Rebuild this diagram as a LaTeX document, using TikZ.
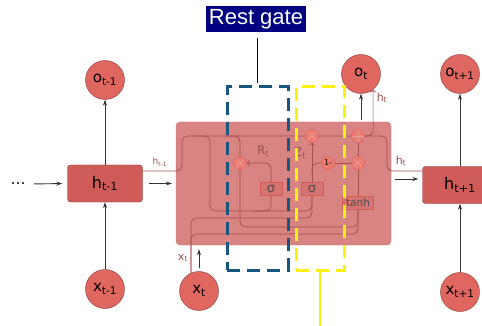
\documentclass[tikz,border=0pt]{standalone}
\usepackage{fontspec}
\setmainfont{DejaVu Sans}
\newfontfamily\tagfont{Liberation Sans}
\usetikzlibrary{arrows.meta,backgrounds}
\definecolor{unitfill}{RGB}{224,102,96}
\definecolor{unitedge}{RGB}{135,55,52}
\definecolor{boxfill}{RGB}{207,92,88}
\definecolor{boxedge}{RGB}{140,60,58}
\definecolor{cellfill}{RGB}{215,132,130}
\definecolor{celledge}{RGB}{192,108,105}
\definecolor{wirecol}{RGB}{168,78,76}
\definecolor{opfill}{RGB}{238,122,112}
\definecolor{opedge}{RGB}{212,92,86}
\definecolor{labelcol}{RGB}{150,82,80}
\definecolor{resetblue}{RGB}{24,86,126}
\definecolor{updyellow}{RGB}{250,240,20}
\definecolor{tagnavy}{RGB}{0,0,128}
\newcommand\idx[2]{#1\textsubscript{#2}}

\begin{document}
\begin{tikzpicture}[x=1pt,y=-1pt,
  unit/.style={circle,draw=unitedge,fill=unitfill,minimum size=39pt,inner sep=0pt,font=\fontsize{15}{15}\selectfont},
  state/.style={draw=boxedge,fill=boxfill,rounded corners=3pt,minimum height=37pt,minimum width=75pt,inner sep=0pt,font=\fontsize{16}{16}\selectfont},
  op/.style={circle,draw=opedge,fill=opfill,minimum size=13pt,inner sep=0pt},
  mulop/.style={op,path picture={\draw[opedge!60!white,line width=0.8pt] (path picture bounding box.north west) -- (path picture bounding box.south east) (path picture bounding box.north east) -- (path picture bounding box.south west);}},
  addop/.style={op,path picture={\draw[opedge!60!white,line width=0.8pt] (path picture bounding box.north) -- (path picture bounding box.south) (path picture bounding box.west) -- (path picture bounding box.east);}},
  gate/.style={draw=opedge,fill=boxfill!85!white,minimum height=13pt,inner sep=1pt,text=black!70,font=\fontsize{13}{13}\selectfont},
  wire/.style={draw=wirecol,line width=0.7pt,rounded corners=6pt},
  flow/.style={draw=black!80,line width=0.9pt,-{Stealth[length=6pt,width=4pt]}},
  tag/.style={text=labelcol,font=\fontsize{11}{11}\selectfont,inner sep=1pt},
  gatebox/.style={draw,line width=3pt,dash pattern=on 13pt off 7pt,inner sep=0pt}]
\useasboundingbox (0,0) rectangle (482,326);

\begin{pgfonlayer}{background}
\node[draw=celledge,fill=cellfill,rounded corners=4pt,minimum width=215pt,minimum height=123pt] (cell) at (283.5,183.5) {};
\end{pgfonlayer}

\node[font=\fontsize{15}{15}\selectfont] (dots) at (18,184) {\dots};
\node[state] (hprev) at (105,183.5) {\idx{h}{t-1}};
\node[state] (hnext) at (460,185) {\idx{h}{t+1}};
\node[unit] (oprev) at (105,80) {\idx{o}{t-1}};
\node[unit] (onow) at (361,74) {\idx{o}{t}};
\node[unit] (onext) at (460,74) {\idx{o}{t+1}};
\node[unit] (xprev) at (105,289) {\idx{x}{t-1}};
\node[unit] (xnow) at (199,291) {\idx{x}{t}};
\node[unit] (xnext) at (460,292) {\idx{x}{t+1}};

\node[mulop] (rmul) at (240,163) {};
\node[mulop] (zmul) at (312,136) {};
\node[addop] (sum) at (358,136) {};
\node[op,font=\fontsize{8}{8}\selectfont] (inv) at (328,163) {1-};
\node[mulop] (hmul) at (358,163) {};
\node[gate,minimum width=22pt] (rsig) at (271,189) {σ};
\node[gate,minimum width=22pt] (zsig) at (312,189) {σ};
\node[gate,minimum width=31pt,font=\fontsize{10.5}{10.5}\selectfont] (tanh) at (358,203) {tanh};
\coordinate (xin) at (191,273);

\begin{pgfonlayer}{background}
\draw[wire] (hprev.east |- 0,171) -- (182,171) |- (387,136) |- (hnext.west |- 0,171);
\draw[wire] (196,136) -| (210,211) -| (zsig.south);
\draw[wire] (rsig.south) |- (255,211);
\draw[wire] (226,136) -| (rmul.north);
\draw[wire] (rmul.south) |- (tanh.south |- 0,227) -- (tanh.south);
\draw[wire] (xin) |- (zsig.south |- 0,218) -- (zsig.south);
\draw[wire] (xin) |- (tanh.south |- 0,234) -- (tanh.south);
\draw[wire,-{To[length=3pt]}] (rsig.north) |- (rmul.east);
\draw[wire,-{To[length=3pt]}] (zsig.north) -- (zmul.south);
\draw[wire] (zsig.north) ++(0,-8) |- (inv.west);
\foreach \u/\v in {inv/hmul,tanh/hmul,hmul/sum} \draw[wire] (\u) -- (\v);
\draw[wire,-{To[length=3pt]}] (sum.east) -| (onow.-52);
\end{pgfonlayer}

\node[tag,font=\fontsize{12}{12}\selectfont] (lrt) at (263,151) {\idx{R}{t}};
\node[tag,font=\fontsize{12}{12}\selectfont] (lzt) at (300,153) {\idx{Z}{t}};
\node[tag,font=\fontsize{9}{9}\selectfont] (lhprev) at (160,162) {\idx{h}{t-1}};
\node[tag] (lhnow) at (401,161) {\idx{h}{t}};
\node[tag] (lhout) at (382,98) {\idx{h}{t}};
\node[tag] (lxt) at (183,258) {\idx{x}{t}};

\draw[flow,shorten <=5pt,shorten >=5pt] (dots.east) -- (hprev.west);
\draw[flow] ([xshift=6pt]hprev.east) -- ([xshift=-4pt]hprev.east -| cell.west);
\draw[flow] ([xshift=4pt]cell.east |- 0,179) -- ([xshift=-4pt]hnext.west |- 0,179);
\foreach \u/\v in {hprev/oprev,xprev/hprev,hnext/onext,xnext/hnext} \draw[flow] (\u) -- (\v);
\draw[flow,shorten <=2pt] (cell.north -| onow) -- (onow);
\draw[flow,shorten <=3pt,shorten >=4pt] (xnow) -- (xnow |- cell.south);

\node[gatebox,draw=resetblue,minimum width=61pt,minimum height=183pt] (rbox) at (257.5,178.5) {};
\node[gatebox,draw=updyellow,minimum width=48pt,minimum height=183pt] (ubox) at (320,178.5) {};
\draw[updyellow,line width=2.5pt] (ubox.south) -- (ubox.south |- 0,326);

\node[fill=tagnavy,text=white,font=\tagfont\fontsize{22}{22}\selectfont,inner xsep=3pt,inner ysep=0pt,minimum height=26pt] (rtag) at (256,19) {Rest gate};
\draw[black!70!blue,line width=1.2pt,shorten <=6pt,shorten >=2pt] (rtag.south -| rbox.north) -- (rbox.north);
\end{tikzpicture}
\end{document}
